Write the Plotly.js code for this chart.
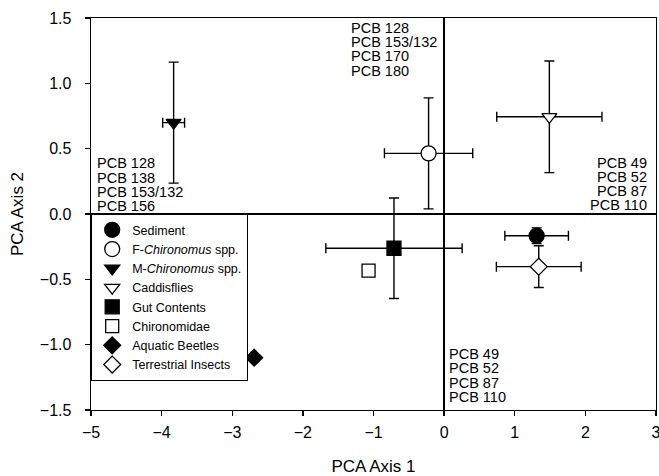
<!DOCTYPE html>
<html>
<head>
<meta charset="utf-8">
<script src="https://cdn.plot.ly/plotly-3.0.1.min.js"></script>
<style>html,body{margin:0;padding:0;background:#fff;}#chart{width:659px;height:476px;}</style>
</head>
<body>
<div id="chart"></div>
<script>
// Group names
const groups = ["Sediment", "F-<i>Chironomus</i> spp.", "M-<i>Chironomus</i> spp.", "Caddisflies",
                "Gut Contents", "Chironomidae", "Aquatic Beetles", "Terrestrial Insects"];
// PCA scores
const pca1 = [1.31, -0.22, -3.83, 1.49, -0.71, -1.07, -2.69, 1.34];
const pca2 = [-0.166, 0.464, 0.699, 0.744, -0.262, -0.434, -1.10, -0.403];
// Error (±) values; null = no error bar
const err1 = [0.45, 0.625, 0.155, 0.745, 0.965, null, null, 0.60];
const err2 = [0.06, 0.425, 0.463, 0.427, 0.385, null, null, 0.16];
// Marker styles
const symbols = ["circle", "circle", "triangle-down", "triangle-down", "square", "square", "diamond", "diamond"];
const fills = ["black", "white", "black", "white", "black", "white", "black", "white"];
const sizes = [15, 15, 13, 13, 14, 13, 13, 13];

// PCB loading labels
const labelsTop = ["PCB 128", "PCB 153/132", "PCB 170", "PCB 180"];
const labelsLeft = ["PCB 128", "PCB 138", "PCB 153/132", "PCB 156"];
const labelsRight = ["PCB 49", "PCB 52", "PCB 87", "PCB 110"];
const labelsBottom = ["PCB 49", "PCB 52", "PCB 87", "PCB 110"];

const FONT = "Liberation Sans, Arial, Helvetica, sans-serif";

const traces = groups.map((g, i) => {
  const t = {
    type: "scatter", mode: "markers", name: g,
    x: [pca1[i]], y: [pca2[i]],
    marker: {symbol: symbols[i], size: sizes[i], color: fills[i], line: {color: "black", width: 1.3}},
    cliponaxis: false
  };
  if (err1[i] !== null) t.error_x = {type: "data", array: [err1[i]], color: "black", thickness: 1.4, width: 5};
  if (err2[i] !== null) t.error_y = {type: "data", array: [err2[i]], color: "black", thickness: 1.4, width: 5};
  return t;
});

function group(labels, x, y0, xanchor) {
  return labels.map((txt, k) => ({
    text: txt, x: x, y: y0, xref: "x", yref: "y", xanchor: xanchor, yanchor: "middle",
    yshift: -k * 14.2, showarrow: false, font: {family: FONT, size: 14.5, color: "black"}
  }));
}
const annotations = [].concat(
  group(labelsTop, -1.34, 1.423, "left"),
  group(labelsLeft, -4.95, 0.388, "left"),
  group(labelsRight, 2.905, 0.392, "right"),
  group(labelsBottom, 0.035, -1.073, "left")
);

const axisCommon = {
  showgrid: false, showline: true, mirror: true, linecolor: "black", linewidth: 1.4,
  ticks: "outside", ticklen: 5, tickwidth: 1.3, tickcolor: "black",
  zeroline: true, zerolinecolor: "black", zerolinewidth: 1.4,
  tickfont: {family: FONT, size: 16, color: "black"},
  ticklabeloverflow: "allow"
};

const layout = {
  width: 659, height: 476,
  margin: {l: 91, r: 3, t: 18, b: 66},
  paper_bgcolor: "white", plot_bgcolor: "white",
  font: {family: FONT, color: "black"},
  xaxis: Object.assign({}, axisCommon, {
    range: [-5, 3], dtick: 1, tick0: -5, ticklabelstandoff: 2,
    title: {text: "PCA Axis 1", font: {family: FONT, size: 17, color: "black"}, standoff: 20}
  }),
  yaxis: Object.assign({}, axisCommon, {
    range: [-1.5, 1.5], dtick: 0.5, tick0: -1.5, tickformat: ".1f", ticklabelstandoff: 10,
    title: {text: "PCA Axis 2", font: {family: FONT, size: 17, color: "black"}, standoff: 12}
  }),
  showlegend: true,
  legend: {
    x: 0, y: 0.5, xanchor: "left", yanchor: "top",
    bgcolor: "white", bordercolor: "black", borderwidth: 1.2,
    font: {family: FONT, size: 12.5, color: "black"},
    itemwidth: 30, tracegroupgap: 0
  },
  annotations: annotations
};

Plotly.newPlot("chart", traces, layout, {displayModeBar: false, staticPlot: true});
</script>
</body>
</html>
